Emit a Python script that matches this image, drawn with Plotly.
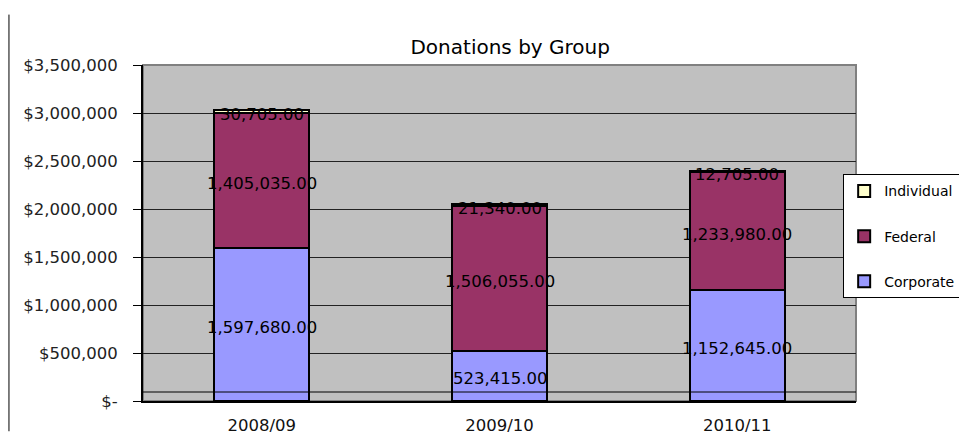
import numpy as np
import plotly.graph_objects as go

categories = ["2008/09", "2009/10", "2010/11"]
corporate = [1597680, 523415, 1152645]
federal = [1405035, 1506055, 1233980]
individual = [30705, 21340, 12705]

tick_vals = [0, 500000, 1000000, 1500000, 2000000, 2500000, 3000000, 3500000]
tick_text = ["$-", "$500,000", "$1,000,000", "$1,500,000", "$2,000,000",
             "$2,500,000", "$3,000,000", "$3,500,000"]

series = [("Corporate", corporate, "#9999FF", 3),
          ("Federal", federal, "#993366", 2),
          ("Individual", individual, "#FFFFCC", 1)]

FONT = "DejaVu Sans"
fig = go.Figure()
for name, vals, col, rank in series:
    fig.add_trace(go.Bar(
        x=categories, y=vals, name=name,
        marker=dict(color=col, line=dict(color="black", width=2)),
        legendgroup=name, legendrank=rank,
    ))

annotations = []
base = np.zeros(len(categories))
for name, vals, col, rank in series:
    v = np.array(vals, dtype=float)
    mid = base + v / 2
    base = base + v
    for cat, m, val in zip(categories, mid, vals):
        annotations.append(dict(
            x=cat, y=m, xref="x", yref="y", text=f"{val:,.2f}",
            showarrow=False, yshift=-3,
            font=dict(family=FONT, size=16.5, color="black"),
        ))

fig.update_layout(
    width=959, height=442,
    margin=dict(l=143, r=103, t=65, b=41, autoexpand=False),
    barmode="stack", bargap=0.6,
    paper_bgcolor="white", plot_bgcolor="#C0C0C0",
    title=dict(text="Donations by Group", x=0.532, xanchor="center",
               y=0.893, yanchor="middle",
               font=dict(family=FONT, size=20, color="black")),
    font=dict(family=FONT, size=16, color="black"),
    legend=dict(x=0.982, xanchor="left", y=0.49, yanchor="middle",
                bgcolor="white", bordercolor="black", borderwidth=1,
                traceorder="grouped", tracegroupgap=24, itemwidth=30,
                font=dict(family=FONT, size=14, color="black")),
    xaxis=dict(showgrid=False, ticks="", showline=True, linecolor="black",
               linewidth=2, ticklabelstandoff=8,
               tickfont=dict(family=FONT, size=16.5, color="#111")),
    yaxis=dict(range=[0, 3500000], tickvals=tick_vals, ticktext=tick_text,
               showgrid=True, gridcolor="#222222", gridwidth=1,
               showline=True, linecolor="black", linewidth=2,
               ticks="outside", ticklen=8, tickcolor="black",
               zeroline=False, ticklabelstandoff=12,
               tickfont=dict(family=FONT, size=16.5, color="#222")),
    annotations=annotations,
    shapes=[
        dict(type="rect", xref="paper", yref="paper", x0=0, x1=1, y0=0, y1=1,
             line=dict(color="#808080", width=2), layer="below"),
        dict(type="line", xref="paper", yref="y", x0=0, x1=1, y0=93750, y1=93750,
             line=dict(color="black", width=1), layer="above"),
        dict(type="line", xref="paper", yref="paper", x0=-0.188, x1=-0.188,
             y0=-0.09, y1=1.15, line=dict(color="black", width=1)),
    ],
)
fig.write_html("out.html", config={"displayModeBar": False},
               post_script="document.body.style.margin='0';")
